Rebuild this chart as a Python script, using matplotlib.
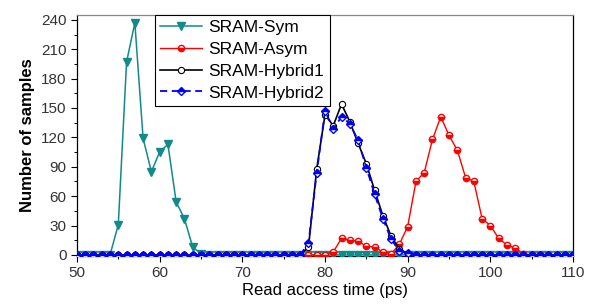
import numpy as np
import matplotlib.pyplot as plt
from matplotlib.ticker import MultipleLocator

plt.rcParams['font.family'] = ['Liberation Sans', 'DejaVu Sans']

# read access time grid (ps), 1 ps steps
t = np.arange(50, 111)

# non-zero parts of each histogram
sym_t = [54, 55, 56, 57, 58, 59, 60, 61, 62, 63, 64, 65]
sym_n = [0, 31, 197, 237, 119, 85, 105, 113, 54, 37, 8, 1]

asym_t = [80, 81, 82, 83, 84, 85, 86, 87, 88, 89, 90, 91, 92, 93, 94, 95, 96,
          97, 98, 99, 100, 101, 102, 103, 104]
asym_n = [0, 3, 17, 15, 14, 9, 8, 3, 1, 11, 29, 75, 84, 118, 141, 122, 107,
          79, 75, 37, 30, 17, 10, 7, 1]

hyb_t = [77, 78, 79, 80, 81, 82, 83, 84, 85, 86, 87, 88, 89, 90, 91]
hyb1_n = [0, 8, 88, 143, 132, 154, 136, 114, 93, 66, 40, 19, 6, 1, 0]
hyb2_n = [0, 12, 84, 147, 129, 141, 134, 117, 89, 62, 37, 16, 4, 2, 0]


def full(xs, ys):
    out = np.zeros(len(t))
    for x, y in zip(xs, ys):
        out[x - 50] = y
    return out


sym = full(sym_t, sym_n)
asym = full(asym_t, asym_n)
hyb1 = full(hyb_t, hyb1_n)
hyb2 = full(hyb_t, hyb2_n)

fig = plt.figure(figsize=(5.92, 3.05), dpi=100)
ax = fig.add_axes([0.130, 0.161, 0.838, 0.790])

ax.plot(t, sym, color='#128a8a', lw=1.1, marker='v', ms=5.5,
        mfc='#128a8a', mec='#128a8a', label='SRAM-Sym', zorder=3)
ax.plot(t, asym, color='red', lw=1.0, marker='o', ms=4.5, mfc='red',
        mec='red', fillstyle='bottom', markerfacecoloralt='white',
        label='SRAM-Asym', zorder=4)
ax.plot(t, hyb1, color='black', lw=1.2, marker='o', ms=4.5, mfc='white',
        mec='black', mew=0.8, label='SRAM-Hybrid1', zorder=5)
ax.plot(t, hyb2, color='blue', lw=1.3, ls=(0, (4, 2.5)), marker='D', ms=4.5,
        mfc='blue', mec='blue', fillstyle='top', markerfacecoloralt='white',
        label='SRAM-Hybrid2', zorder=6)

ax.set_xlim(50, 110)
ax.set_ylim(-1, 245)
ax.xaxis.set_major_locator(MultipleLocator(10))
ax.xaxis.set_minor_locator(MultipleLocator(5))
ax.yaxis.set_major_locator(MultipleLocator(30))
ax.yaxis.set_minor_locator(MultipleLocator(15))
ax.tick_params(which='major', direction='out', length=4, width=0.8,
               labelsize=11, labelcolor='#333333', top=False, right=False)
ax.tick_params(which='minor', direction='out', length=2.5, width=0.7,
               top=False, right=False)
for s in ax.spines.values():
    s.set_linewidth(0.9)
ax.spines['top'].set_color('#888888')

ax.set_xlabel('Read access time (ps)', fontsize=12, labelpad=2)
ax.set_ylabel('Number of samples', fontsize=12, fontweight='bold', labelpad=4)

leg = ax.legend(loc='upper left', bbox_to_anchor=(0.157, 1.0),
                borderaxespad=0, fontsize=12.5, handlelength=2.4,
                handletextpad=0.4, labelspacing=0.38, borderpad=0.3,
                fancybox=False, framealpha=1)
leg.get_frame().set_edgecolor('black')
leg.get_frame().set_linewidth(0.8)

fig.savefig('out.png', dpi=100)
